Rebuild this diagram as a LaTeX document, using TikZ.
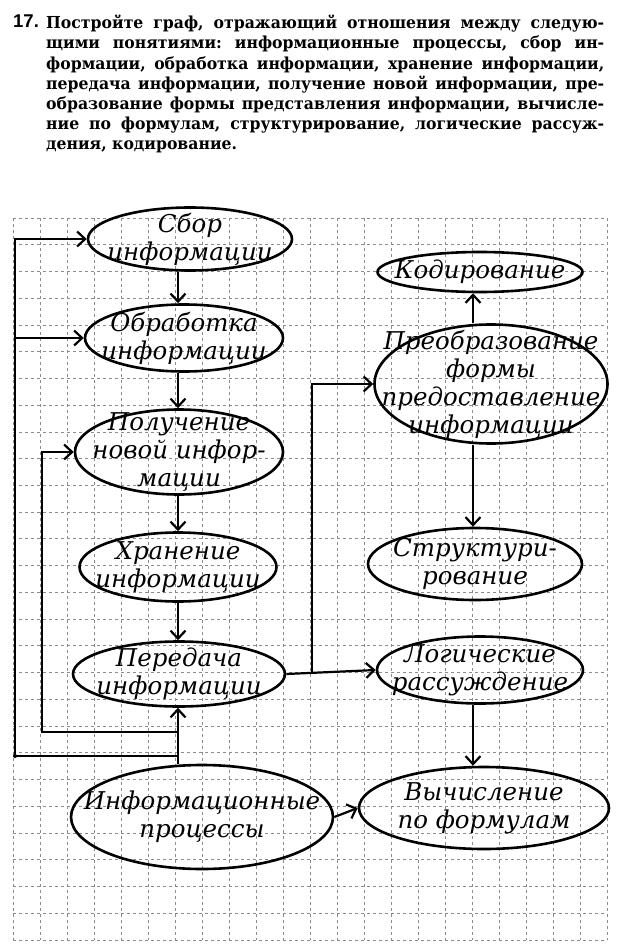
\documentclass[tikz,border=0pt]{standalone}
\usepackage{fontspec}
\setmainfont[FakeStretch=0.95]{DejaVu Serif}
\newfontfamily\handfont{DejaVu Serif}
\newfontfamily\numfont{Liberation Sans}
\usetikzlibrary{shapes.geometric}
\usetikzlibrary{arrows.meta}
\frenchspacing
\tikzstyle{oval} = [draw,ellipse,line width=2.6pt,inner sep=-60pt,align=center,font=\handfont\itshape\fontsize{24.5}{28}\selectfont]
\tikzstyle{link} = [line width=2.2pt,-{Straight Barb[length=8pt,width=15pt]}]
\tikzstyle{gridline} = [black!45,line width=0.8pt,dash pattern=on 3pt off 3pt]
\newcommand{\taskline}[1]{\makebox[558pt][s]{#1}}

\begin{document}
\begin{tikzpicture}[x=1pt,y=-1pt]
	\useasboundingbox (0,0) rectangle (622,949);
	\fill[white] (0,0) rectangle (622,949);
	% squared paper
	\foreach \gx in {13,40,...,607} \draw[gridline] (\gx,218) -- (\gx,940);
	\foreach \k in {0,...,27} \draw[gridline] (13,{218+26.74*\k}) -- (607,{218+26.74*\k});
	
	% task text
	\node[anchor=north west,inner sep=0pt,font=\numfont\bfseries\fontsize{18.5}{20.2}\selectfont] (num) at (13,15) {17.};
	\node[anchor=north west,inner sep=0pt,align=left,font=\bfseries\fontsize{16.5}{20.2}\selectfont] (task) at (46,15) {%
		\taskline{Постройте граф, отражающий отношения между следую-}\\
		\taskline{щими понятиями: информационные процессы, сбор ин-}\\
		\taskline{формации, обработка информации, хранение информации,}\\
		\taskline{передача информации, получение новой информации, пре-}\\
		\taskline{образование формы представления информации, вычисле-}\\
		\taskline{ние по формулам, структурирование, логические рассуж-}\\
		дения, кодирование.};
	
	% left column
	\node[oval,minimum width=204pt,minimum height=63pt] (sbor) at (190,239) {Сбор\\информации};
	\node[oval,minimum width=198pt,minimum height=67pt] (obrab) at (184,338) {Обработка\\информации};
	\node[oval,minimum width=208pt,minimum height=85pt] (pol) at (179,452) {Получение\\новой инфор-\\мации};
	\node[oval,minimum width=197pt,minimum height=69pt] (hran) at (178,567) {Хранение\\информации};
	\node[oval,minimum width=212pt,minimum height=65pt] (pered) at (179,674) {Передача\\информации};
	\node[oval,minimum width=262pt,minimum height=104pt] (info) at (202,817) {Информационные\\процессы};
	
	% right column
	\node[oval,minimum width=205pt,minimum height=40pt] (kod) at (480,272) {Кодирование};
	\node[oval,minimum width=233pt,minimum height=119pt] (preob) at (491,384) {Преобразование\\формы\\предоставление\\информации};
	\node[oval,minimum width=214pt,minimum height=72pt] (struct) at (475,564) {Структури-\\рование};
	\node[oval,minimum width=206pt,minimum height=67pt] (logic) at (480,670) {Логические\\рассуждение};
	\node[oval,minimum width=250pt,minimum height=82pt] (vych) at (484,808) {Вычисление\\по формулам};
	
	\coordinate (spine) at (178,0);
	\coordinate (outer) at (15,0);
	\coordinate (inner) at (42,0);
	\coordinate (jout) at (178,756);
	\coordinate (jin) at (178,732);
	\coordinate (rjoin) at (312,673);
	\coordinate (rspine) at (473,0);
	
	\draw[link] (sbor.south -| spine) -- (obrab.north -| spine);
	\draw[link] (obrab.south -| spine) -- (pol.north -| spine);
	\draw[link] (pol.south -| spine) -- (hran.north -| spine);
	\draw[link] (hran.south -| spine) -- (pered.north -| spine);
	\draw[link] (info.north -| spine) -- (pered.south -| spine);
	\draw[link] (jin) -| (inner |- pol.west) -- (pol.west);
	\draw[link] (jout) -| (outer |- sbor.west) -- (sbor.west);
	\draw[link] (outer |- obrab.west) -- (obrab.west);
	\fill (outer |- jout) circle (2pt);
	
	\draw[link] (pered.east) -- (logic.west);
	\draw[link] (rjoin) |- (preob.west);
	\draw[link] (preob.north -| rspine) -- (kod.south -| rspine);
	\draw[link] (preob.south -| rspine) -- (struct.north -| rspine);
	\draw[link] (logic.south -| rspine) -- (vych.north -| rspine);
	\draw[link] (info.east) -- (vych.west);
\end{tikzpicture}
\end{document}
